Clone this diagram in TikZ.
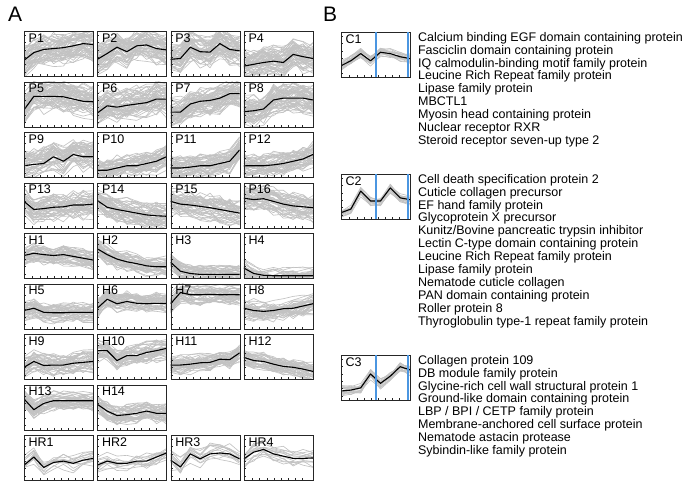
\documentclass[tikz,border=0pt]{standalone}
\usepackage{fontspec}
\setmainfont{Liberation Sans}
\usetikzlibrary{positioning}

\definecolor{cutblue}{RGB}{75,150,225}

\tikzset{
  panelbox/.style={draw=black!85, line width=0.9pt, inner sep=0pt,
    minimum width=69pt, minimum height=45pt, anchor=north west},
  member/.style={draw=black!24, line width=0.65pt, line join=round},
  meanline/.style={draw=black, line width=1.1pt, line join=round},
  axistick/.style={draw=black!85, line width=0.6pt},
  cutline/.style={draw=cutblue, line width=2pt},
  panellabel/.style={inner sep=0pt, anchor=north west, font=\fontsize{12.5}{13}\selectfont},
  genelist/.style={align=left, inner sep=0pt, font=\fontsize{12.5}{12.9}\selectfont},
  figlabel/.style={inner sep=0pt, anchor=north west, font=\fontsize{21}{21}\selectfont},
}

% name, x, y, label, mean profile, spread, number of members
\newcommand{\profilepanel}[7]{%
  \def\pmean{{#5}}%
  \begin{scope}[shift={(#2,#3)}]
    \begin{scope}
      \clip (0,0) rectangle (69,45);
      \foreach \k in {1,...,#7}{
        \pgfmathsetmacro\poff{#6*rand}
        \draw[member] (0,{45-45*(\pmean[0]+\poff+0.6*#6*rand)})
          \foreach \i in {1,...,7}{ -- (\i*9.857,{45-45*(\pmean[\i]+\poff+0.6*#6*rand)}) };
      }
      \draw[meanline] (0,{45-45*\pmean[0]})
        \foreach \i in {1,...,7}{ -- (\i*9.857,{45-45*\pmean[\i]}) };
    \end{scope}
    \foreach \t in {4,11.4,18.8,26.2,33.6,41} \draw[axistick] (0,\t) -- (2,\t);
    \foreach \t in {8.7,15.8,23,30.1,37.2,44.4,51.5,58.6} \draw[axistick] (\t,45) -- (\t,43);
    \node[panelbox] (#1) at (0,0) {};
    \node[panellabel] (#1-label) at (4.5,2.5) {#4};
  \end{scope}
}

\begin{document}
\begin{tikzpicture}[x=1pt, y=-1pt]
    \pgfmathsetseed{11}
    \useasboundingbox (0,0) rectangle (689,485);

    % Panel letters
    \node[figlabel] (labelA) at (8,7) {A};
    \node[figlabel] (labelB) at (323,7) {B};

    % A: P clusters
    \profilepanel{P1}{24}{31}{P1}{0.35,0.52,0.59,0.61,0.63,0.67,0.72,0.70}{0.27}{55}
    \profilepanel{P2}{97.3}{31}{P2}{0.37,0.50,0.64,0.54,0.67,0.69,0.61,0.58}{0.25}{55}
    \profilepanel{P3}{170.6}{31}{P3}{0.37,0.39,0.64,0.54,0.53,0.72,0.59,0.56}{0.25}{55}
    \profilepanel{P4}{243.9}{31}{P4}{0.22,0.26,0.30,0.33,0.30,0.48,0.43,0.39}{0.25}{55}
    \profilepanel{P5}{24}{81.5}{P5}{0.37,0.67,0.67,0.67,0.66,0.61,0.56,0.55}{0.27}{55}
    \profilepanel{P6}{97.3}{81.5}{P6}{0.30,0.46,0.43,0.47,0.50,0.53,0.61,0.61}{0.27}{55}
    \profilepanel{P7}{170.6}{81.5}{P7}{0.32,0.32,0.50,0.56,0.58,0.63,0.73,0.73}{0.25}{55}
    \profilepanel{P8}{243.9}{81.5}{P8}{0.33,0.35,0.39,0.59,0.63,0.63,0.63,0.59}{0.25}{55}
    \profilepanel{P9}{24}{132}{P9}{0.25,0.28,0.30,0.45,0.35,0.50,0.45,0.45}{0.24}{45}
    \profilepanel{P10}{97.3}{132}{P10}{0.15,0.15,0.20,0.25,0.25,0.30,0.35,0.45}{0.2}{45}
    \profilepanel{P11}{170.6}{132}{P11}{0.20,0.20,0.22,0.25,0.25,0.30,0.35,0.60}{0.2}{45}
    \profilepanel{P12}{243.9}{132}{P12}{0.25,0.25,0.25,0.27,0.30,0.35,0.40,0.50}{0.2}{45}
    \profilepanel{P13}{24}{182.5}{P13}{0.58,0.40,0.42,0.45,0.46,0.50,0.50,0.52}{0.22}{45}
    \profilepanel{P14}{97.3}{182.5}{P14}{0.60,0.45,0.40,0.36,0.32,0.28,0.26,0.25}{0.22}{45}
    \profilepanel{P15}{170.6}{182.5}{P15}{0.58,0.52,0.50,0.47,0.44,0.40,0.36,0.32}{0.22}{45}
    \profilepanel{P16}{243.9}{182.5}{P16}{0.65,0.62,0.64,0.58,0.52,0.48,0.46,0.44}{0.22}{45}

    % A: H clusters
    \profilepanel{H1}{24}{233}{H1}{0.50,0.55,0.52,0.50,0.52,0.48,0.44,0.40}{0.18}{40}
    \profilepanel{H2}{97.3}{233}{H2}{0.65,0.52,0.42,0.36,0.32,0.27,0.25,0.25}{0.18}{40}
    \profilepanel{H3}{170.6}{233}{H3}{0.35,0.15,0.10,0.08,0.08,0.08,0.08,0.08}{0.14}{40}
    \profilepanel{H4}{243.9}{233}{H4}{0.22,0.10,0.06,0.05,0.05,0.05,0.05,0.05}{0.14}{40}
    \profilepanel{H5}{24}{283.5}{H5}{0.40,0.45,0.36,0.35,0.35,0.36,0.36,0.36}{0.16}{40}
    \profilepanel{H6}{97.3}{283.5}{H6}{0.45,0.65,0.55,0.60,0.56,0.55,0.56,0.56}{0.16}{40}
    \profilepanel{H7}{170.6}{283.5}{H7}{0.55,0.80,0.75,0.75,0.76,0.75,0.75,0.75}{0.16}{40}
    \profilepanel{H8}{243.9}{283.5}{H8}{0.45,0.40,0.38,0.40,0.44,0.45,0.50,0.55}{0.18}{40}
    \profilepanel{H9}{24}{334}{H9}{0.26,0.39,0.30,0.31,0.31,0.35,0.37,0.39}{0.18}{40}
    \profilepanel{H10}{97.3}{334}{H10}{0.63,0.63,0.41,0.52,0.52,0.59,0.63,0.68}{0.18}{40}
    \profilepanel{H11}{170.6}{334}{H11}{0.31,0.31,0.33,0.36,0.37,0.44,0.43,0.58}{0.16}{40}
    \profilepanel{H12}{243.9}{334}{H12}{0.48,0.41,0.39,0.33,0.28,0.26,0.22,0.17}{0.14}{40}
    \profilepanel{H13}{24}{384.5}{H13}{0.68,0.44,0.58,0.64,0.64,0.64,0.64,0.64}{0.16}{40}
    \profilepanel{H14}{97.3}{384.5}{H14}{0.56,0.41,0.31,0.33,0.36,0.41,0.36,0.36}{0.16}{40}

    % A: HR clusters
    \profilepanel{HR1}{24}{435}{HR1}{0.33,0.51,0.28,0.39,0.42,0.37,0.44,0.48}{0.14}{14}
    \profilepanel{HR2}{97.3}{435}{HR2}{0.33,0.42,0.37,0.37,0.42,0.42,0.51,0.60}{0.14}{14}
    \profilepanel{HR3}{170.6}{435}{HR3}{0.44,0.29,0.58,0.47,0.58,0.60,0.58,0.47}{0.16}{14}
    \profilepanel{HR4}{243.9}{435}{HR4}{0.47,0.62,0.68,0.58,0.53,0.48,0.48,0.49}{0.14}{14}

    % B: C clusters with boundaries
    \profilepanel{C1}{341}{32}{C1}{0.25,0.36,0.52,0.36,0.55,0.52,0.45,0.41}{0.08}{20}
    \profilepanel{C2}{341}{174}{C2}{0.14,0.22,0.62,0.40,0.40,0.69,0.47,0.43}{0.08}{20}
    \profilepanel{C3}{341}{355}{C3}{0.20,0.22,0.27,0.58,0.37,0.53,0.74,0.67}{0.1}{20}
    \foreach \c in {C1,C2,C3}{
      \path (\c.north west) ++(34.5,0) coordinate (\c-cutA)
            (\c.north west) ++(67,0) coordinate (\c-cutB);
      \draw[cutline] (\c-cutA) -- ++(0,45);
      \draw[cutline] (\c-cutB) -- ++(0,45);
    }

    % Gene lists
    \node[genelist, below right=0pt and 7pt of C1.north east] (C1-genes)
      {Calcium binding EGF domain containing protein\\
       Fasciclin domain containing protein\\
       IQ calmodulin-binding motif family protein\\
       Leucine Rich Repeat family protein\\
       Lipase family protein\\
       MBCTL1\\
       Myosin head containing protein\\
       Nuclear receptor RXR\\
       Steroid receptor seven-up type 2};
    \node[genelist, below right=0pt and 7pt of C2.north east] (C2-genes)
      {Cell death specification protein 2\\
       Cuticle collagen precursor\\
       EF hand family protein\\
       Glycoprotein X precursor\\
       Kunitz/Bovine pancreatic trypsin inhibitor\\
       Lectin C-type domain containing protein\\
       Leucine Rich Repeat family protein\\
       Lipase family protein\\
       Nematode cuticle collagen\\
       PAN domain containing protein\\
       Roller protein 8\\
       Thyroglobulin type-1 repeat family protein};
    \node[genelist, below right=0pt and 7pt of C3.north east] (C3-genes)
      {Collagen protein 109\\
       DB module family protein\\
       Glycine-rich cell wall structural protein 1\\
       Ground-like domain containing protein\\
       LBP / BPI / CETP family protein\\
       Membrane-anchored cell surface protein\\
       Nematode astacin protease\\
       Sybindin-like family protein};
\end{tikzpicture}
\end{document}
